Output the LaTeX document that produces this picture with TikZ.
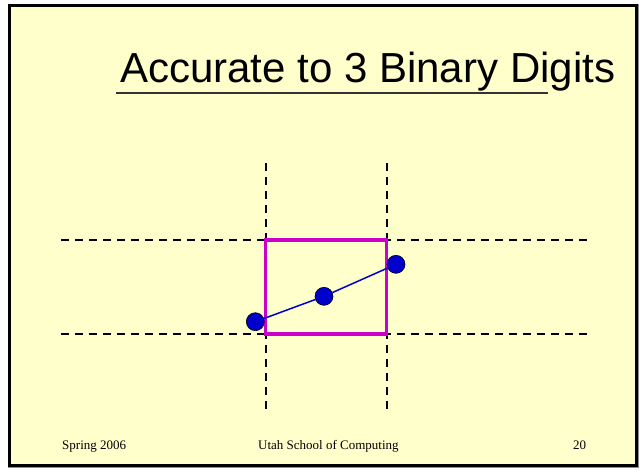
\documentclass[tikz,border=0pt]{standalone}
\usepackage{fontspec}
\setmainfont{Liberation Serif}
\newfontfamily\titlefont{Liberation Sans}
\usetikzlibrary{positioning}
\definecolor{slidebg}{HTML}{FFFFCC}
\definecolor{boxmag}{HTML}{CC00CC}
\definecolor{dotblue}{HTML}{0000CC}

\begin{document}
\begin{tikzpicture}[x=1pt, y=-1pt,
    grid/.style={dashed, line width=2pt, dash pattern=on 8pt off 6pt, black},
    dot/.style={circle, draw=black, line width=0.6pt, fill=dotblue,
                minimum size=18pt, inner sep=0pt},
    seg/.style={dotblue, line width=1.5pt},
    foot/.style={font=\fontsize{13}{15}\selectfont, anchor=base west}]

  \useasboundingbox (0,0) rectangle (642,471);

  %% Slide background and frame
  \fill[white] (0,0) rectangle (642,471);
  \draw[black!45, line width=1pt] (8,4) rectangle (638,467);
  \draw[black, line width=3pt, fill=slidebg] (9.5,5.5) rectangle (636.5,465.5);

  %% Title
  \node[font=\titlefont\fontsize{42}{46}\selectfont, anchor=base west,
        inner sep=0pt] (title) at (120,82) {Accurate to 3 Binary Digits};
  \draw[black!80, line width=2pt] (116,93) -- (548,93);

  %% Dashed grid lines
  \draw[grid] (61,240) -- (588,240);
  \draw[grid] (61,334) -- (588,334);
  \draw[grid] (265.5,163) -- (265.5,410);
  \draw[grid] (386.5,163) -- (386.5,410);

  %% Interval box
  \draw[boxmag, line width=3.5pt] (265.5,240) rectangle (386.5,334);

  %% Points on the segment
  \node[dot] (d1) at (255.3,321.7) {};
  \node[dot] (d2) at (324,296.3) {};
  \node[dot] (d3) at (396,264.3) {};
  \draw[seg] (d1) -- (d2) -- (d3);

  %% Footer
  \node[foot, inner sep=0pt] (fdate) at (62,449) {Spring 2006};
  \node[foot, inner sep=0pt] (fschool) at (258,449) {Utah School of Computing};
  \node[foot, inner sep=0pt] (fpage) at (573,449) {20};
\end{tikzpicture}
\end{document}
